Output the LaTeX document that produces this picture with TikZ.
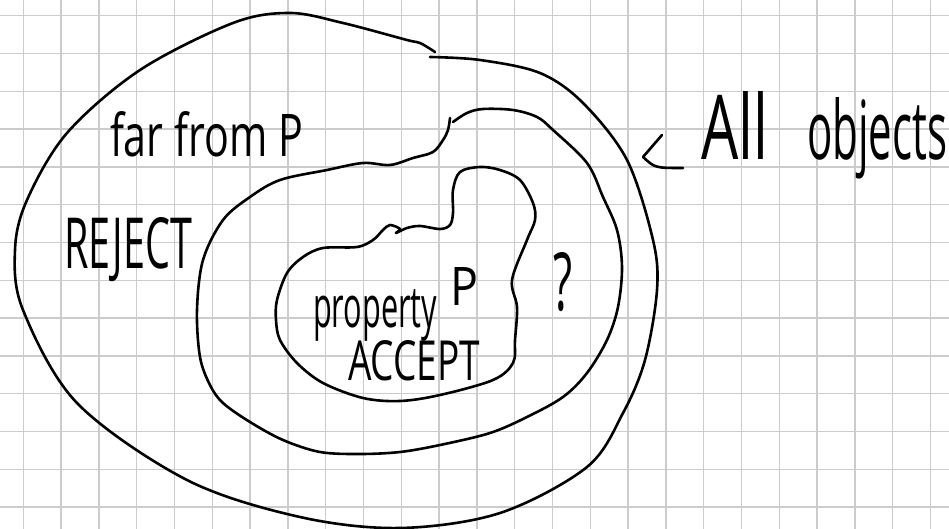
\documentclass[tikz,border=0pt]{standalone}
\usepackage{fontspec}
\setmainfont{Open Sans}
\begin{document}
\begin{tikzpicture}[x=1pt,y=-1pt,
  ink/.style={line width=2.6pt, line cap=round, line join=round},
  gridline/.style={draw=black!20, line width=1.3pt},
  hand/.style={inner sep=0pt, outer sep=0pt, anchor=base west}]
\useasboundingbox (0,0) rectangle (949,529);
\fill[white] (0,0) rectangle (949,529);
\foreach \k in {0,...,24} \draw[gridline] ({23.3+37.8*\k},0) -- ({23.3+37.8*\k},529);
\foreach \k in {0,...,13} \draw[gridline] (0,{15.7+37.8*\k}) -- (949,{15.7+37.8*\k});

% outer region: all objects
\draw[ink] plot[smooth, tension=0.55] coordinates {(430,57) (480,60) (540,73) (583,103) (627,160) (653,240) (657,290) (645,360) (623,413) (587,467) (500,513) (400,528) (300,517) (187,480) (77,403) (23,310) (15,250) (27,200) (67,133) (140,70) (233,23) (290,13) (343,23) (407,40) (420,43) (435,52)};

% middle region
\draw[ink] plot[smooth, tension=0.55] coordinates {(453,122) (467,113) (483,109) (513,110) (537,117) (553,130) (587,163) (603,197) (617,230) (622,267) (618,307) (607,340) (587,373) (563,397) (527,417) (490,433) (440,445) (400,452) (360,454) (320,452) (283,440) (250,422) (223,403) (210,385) (200,357) (197,310) (203,260) (223,220) (250,197) (280,180) (327,170) (363,163) (390,165) (413,158) (433,152) (443,140) (448,130) (450,118)};

% inner region: property P
\draw[ink] plot[smooth cycle, tension=0.55] coordinates {(383,230) (373,240) (357,247) (323,248) (303,257) (287,273) (277,300) (276,320) (280,340) (297,363) (323,383) (363,398) (400,401) (440,395) (493,380) (513,363) (515,340) (517,307) (512,280) (527,240) (535,220) (533,203) (520,180) (500,170) (480,167) (460,172) (453,190) (453,213) (450,225) (440,229) (420,226) (407,228) (396,233) (400,229) (390,225)};

% labels
\node[hand] (far) at (110,157) {\resizebox{193pt}{45pt}{far from P}};
\node[hand] (reject) at (64,268) {\resizebox{128pt}{51pt}{REJECT}};
\node[hand] (prop) at (313,327) {\resizebox{124pt}{38pt}{property}\hspace{13pt}\raisebox{22pt}{\resizebox{28pt}{38pt}{P}}};
\node[hand] (accept) at (348,380) {\resizebox{132pt}{40pt}{ACCEPT}};
\node[hand] (q) at (553,310) {\resizebox{19pt}{58pt}{?}};
\node[hand] (all) at (701,160) {\resizebox{67pt}{68pt}{All}\hspace{39pt}\resizebox{140pt}{62pt}{objects}};

% arrow pointing to the outer region
\coordinate (arrtop) at (662,135);
\coordinate (arrtip) at (643,157);
\coordinate (arrend) at (683,168);
\draw[ink] (arrtop) -- (arrtip) .. controls (655,168) .. (arrend);
\end{tikzpicture}
\end{document}
